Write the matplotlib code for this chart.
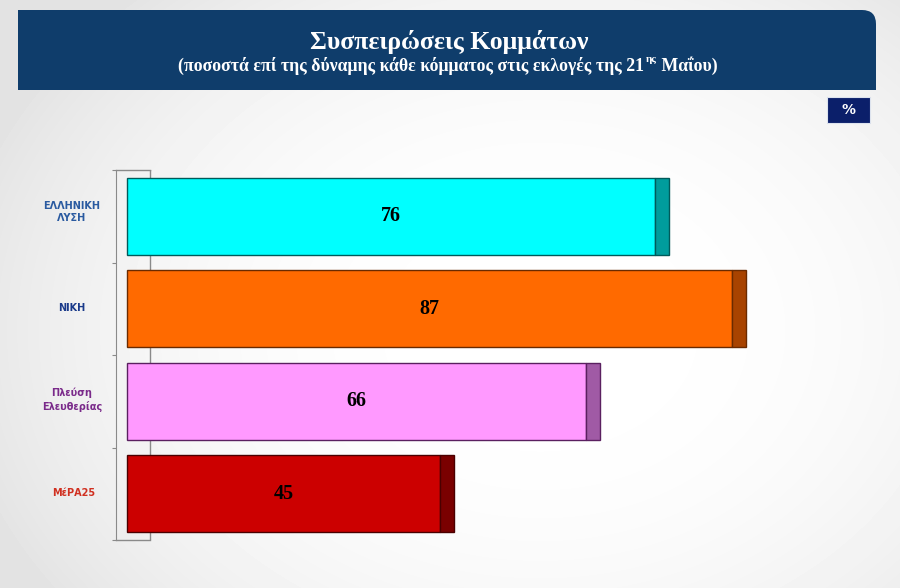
import numpy as np
import matplotlib
matplotlib.use("Agg")
import matplotlib.pyplot as plt
from matplotlib.patches import Rectangle, PathPatch
from matplotlib.path import Path

# ---- data ----
parties = ["ΕΛΛΗΝΙΚΗ\nΛΥΣΗ", "ΝΙΚΗ", "Πλεύση\nΕλευθερίας", "ΜέΡΑ25"]
values = [76, 87, 66, 45]
front_colors = ["#00ffff", "#ff6a00", "#ff99ff", "#cc0000"]
side_colors = ["#009c9c", "#a84300", "#a05aa5", "#7a0000"]
edge_colors = ["#005a5a", "#6a2a00", "#5a2060", "#4a0000"]
logo_colors = ["#2a5aa0", "#1a3a8a", "#7a2a8a", "#d03020"]
title = "Συσπειρώσεις Κομμάτων"
sub_a = "(ποσοστά επί της δύναμης κάθε κόμματος στις εκλογές της 21"
sub_sup = "ης"
sub_b = " Μαΐου)"

W, H = 900, 588
fig = plt.figure(figsize=(W / 100, H / 100), dpi=100)

# background gradient
bg = fig.add_axes([0, 0, 1, 1], zorder=-10)
yy, xx = np.mgrid[0:H, 0:W]
r = np.sqrt(((xx - 540) / 600.0) ** 2 + ((yy - 330) / 460.0) ** 2)
img = 1.0 - 0.11 * np.clip(r, 0, 1) ** 2.5
bg.imshow(img, cmap="gray", vmin=0, vmax=1, extent=[0, W, H, 0], aspect="auto")
bg.set_xlim(0, W)
bg.set_ylim(H, 0)
bg.axis("off")

# header band with rounded top-right corner
x0, x1, y0, y1, rc = 18, 876, 10, 90, 14
verts = [(x0, y1), (x0, y0), (x1 - rc, y0), (x1, y0), (x1, y0 + rc), (x1, y1), (x0, y1)]
codes = [Path.MOVETO, Path.LINETO, Path.LINETO, Path.CURVE3, Path.CURVE3, Path.LINETO, Path.CLOSEPOLY]
bg.add_patch(PathPatch(Path(verts, codes), facecolor="#0f3d6b", edgecolor="none"))
# % box
bg.add_patch(Rectangle((827, 97), 43, 26, facecolor="#0b1f6a", edgecolor="#dde3ee", lw=0.8))
bg.text(848.5, 110.5, "%", color="white", fontsize=10, fontweight="bold",
        family="DejaVu Sans", ha="center", va="center")

serif = "Liberation Serif"
bg.text(449, 42, title, color="white", fontsize=18.5, fontweight="bold",
        family=serif, ha="center", va="center")
t1 = bg.text(178, 66, sub_a, color="white", fontsize=12.8, fontweight="bold",
             family=serif, ha="left", va="center")
t2 = bg.annotate(sub_sup, xy=(1, 0.62), xycoords=t1, xytext=(1, 0), textcoords="offset points",
                 color="white", fontsize=8, fontweight="bold", family=serif, ha="left", va="bottom")
bg.annotate(sub_b, xy=(1, 0), xycoords=t1, xytext=(9.5, 0), textcoords="offset points",
            color="white", fontsize=12.8, fontweight="bold", family=serif, ha="left", va="bottom")

# ---- bar chart axes ----
ppu = 6.95          # pixels per unit
x_origin = 127
ax_l, ax_r, ax_t, ax_b = 116, 876, 170, 540
ax = fig.add_axes([ax_l / W, 1 - ax_b / H, (ax_r - ax_l) / W, (ax_b - ax_t) / H])
ax.set_facecolor("none")
ax.set_xlim((ax_l - x_origin) / ppu, (ax_r - x_origin) / ppu)
ax.set_ylim(len(values) - 0.5, -0.5)

ypos = np.arange(len(values))
depth = 14 / ppu
bar_h = 0.83
wall_x = (150 - x_origin) / ppu

# 3D wall lines
ax.plot([ax.get_xlim()[0], wall_x], [-0.5, -0.5], color="#8a8a8a", lw=1.0, clip_on=False, zorder=1)
ax.plot([ax.get_xlim()[0], wall_x], [len(values) - 0.5, len(values) - 0.5], color="#8a8a8a",
        lw=1.0, clip_on=False, zorder=1)
ax.plot([wall_x, wall_x], [-0.5, len(values) - 0.5], color="#8a8a8a", lw=1.0, zorder=1)

ax.barh(ypos, values, height=bar_h, color=front_colors, edgecolor=edge_colors, lw=1.0, zorder=3)
ax.barh(ypos, [depth] * len(values), left=values, height=bar_h, color=side_colors,
        edgecolor=edge_colors, lw=1.0, zorder=3)

for y, v in zip(ypos, values):
    ax.text(v / 2, y, f"{v}", ha="center", va="center", fontsize=14.5, fontweight="bold",
            family=serif, color="black", zorder=4)

for s in ["top", "right", "bottom"]:
    ax.spines[s].set_visible(False)
ax.spines["left"].set_color("#8a8a8a")
ax.set_xticks([])
ax.set_yticks(np.arange(-0.5, len(values), 1.0))
ax.set_yticklabels([])
ax.tick_params(axis="y", length=3, color="#8a8a8a", direction="out")

# party labels (in place of logos)
label_x = [72, 72, 72, 74]
label_y = [212, 308, 400, 493]
for lx, ly, name, c in zip(label_x, label_y, parties, logo_colors):
    bg.text(lx, ly, name, ha="center", va="center", fontsize=7, color=c,
            family="DejaVu Sans", fontweight="bold", linespacing=1.3)

fig.savefig("out.png", dpi=100)
